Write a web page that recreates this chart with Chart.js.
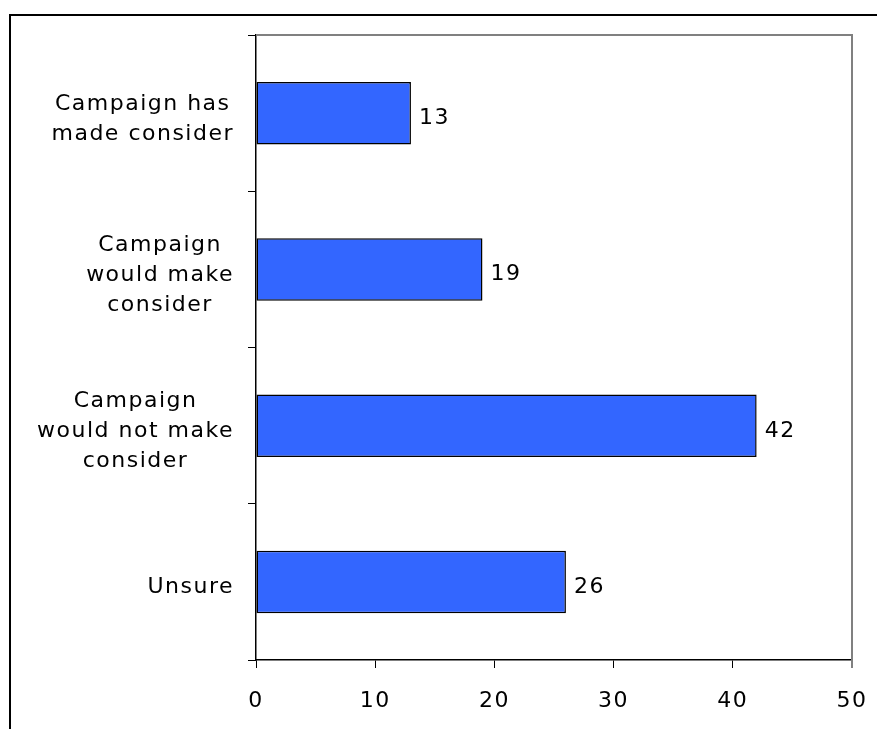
<!DOCTYPE html>
<html>
<head>
<meta charset="utf-8">
<title>Campaign consideration</title>
<script src="https://cdn.jsdelivr.net/npm/chart.js@4/dist/chart.umd.min.js"></script>
<style>
  html, body { margin: 0; padding: 0; background: #fff; }
  canvas { display: block; }
</style>
</head>
<body>
<canvas id="chart" width="877" height="729"></canvas>
<script>
// category labels, one array of lines per bar (top to bottom)
const categories = [
  ["Campaign has", "made consider"],
  ["Campaign", "would make", "consider"],
  ["Campaign", "would not make", "consider"],
  ["Unsure"]
];
const values = [13, 19, 42, 26];
const xTicks = [0, 10, 20, 30, 40, 50];

const FONT = "DejaVu Sans";
const FONT_SIZE = 22;
const SPACING = "1.5px";

// outer frame lines and the grey plot border on top/right
const framePlugin = {
  id: "frame",
  beforeDraw(chart) {
    const ctx = chart.ctx;
    ctx.save();
    ctx.strokeStyle = "#000";
    ctx.lineWidth = 2;
    ctx.beginPath();
    ctx.moveTo(10, chart.height);
    ctx.lineTo(10, 15);
    ctx.lineTo(chart.width, 15);
    ctx.stroke();
    ctx.restore();
    // chart text uses a slightly wider letter spacing
    ctx.letterSpacing = SPACING;
  },
  afterDraw(chart) {
    const ctx = chart.ctx;
    const a = chart.chartArea;
    ctx.save();
    ctx.strokeStyle = "#808080";
    ctx.lineWidth = 2;
    ctx.beginPath();
    ctx.moveTo(a.left, a.top);
    ctx.lineTo(a.right, a.top);
    ctx.lineTo(a.right, a.bottom + 8);
    ctx.stroke();
    ctx.restore();
  }
};

// multi-line category labels: block right-aligned, lines centred within it
const categoryLabels = {
  id: "categoryLabels",
  afterDraw(chart) {
    const ctx = chart.ctx;
    const y = chart.scales.y;
    const right = y.right - 22;
    ctx.save();
    ctx.letterSpacing = SPACING;
    ctx.font = FONT_SIZE + "px '" + FONT + "'";
    ctx.fillStyle = "#000";
    ctx.textAlign = "center";
    ctx.textBaseline = "alphabetic";
    categories.forEach((lines, i) => {
      const cy = y.getPixelForTick(i);
      const w = Math.max(...lines.map(l => ctx.measureText(l).width));
      const cx = right - w / 2;
      lines.forEach((line, j) => {
        const by = cy + 11.5 + (j - (lines.length - 1) / 2) * 30;
        ctx.fillText(line, cx, by);
      });
    });
    ctx.restore();
  }
};

// value printed just past the end of each bar
const valueLabels = {
  id: "valueLabels",
  afterDatasetsDraw(chart) {
    const ctx = chart.ctx;
    const meta = chart.getDatasetMeta(0);
    ctx.save();
    ctx.letterSpacing = SPACING;
    ctx.font = FONT_SIZE + "px '" + FONT + "'";
    ctx.fillStyle = "#000";
    ctx.textAlign = "left";
    ctx.textBaseline = "alphabetic";
    meta.data.forEach((bar, i) => {
      ctx.fillText(String(values[i]), bar.x + 8, bar.y + 11);
    });
    ctx.restore();
  }
};

new Chart(document.getElementById("chart"), {
  type: "bar",
  data: {
    labels: categories,
    datasets: [
      {
        data: values,
        backgroundColor: "#3366FF",
        borderColor: "#000",
        borderWidth: 1.5,
        borderSkipped: false,
        barPercentage: 0.4,
        categoryPercentage: 1
      }
    ]
  },
  options: {
    indexAxis: "y",
    responsive: false,
    animation: false,
    devicePixelRatio: 1,
    layout: { padding: { top: 35, right: 25, left: 0, bottom: 0 } },
    plugins: {
      legend: { display: false },
      tooltip: { enabled: false }
    },
    scales: {
      x: {
        min: xTicks[0],
        max: xTicks[xTicks.length - 1],
        afterBuildTicks(scale) {
          scale.ticks = xTicks.map(v => ({ value: v }));
        },
        afterFit(scale) {
          scale.height = 69;
          scale.paddingLeft = 0;
          scale.paddingRight = 0;
        },
        grid: {
          drawOnChartArea: false,
          tickLength: 8,
          color: "#000",
          lineWidth: 1
        },
        border: { color: "#000", width: 1.5 },
        ticks: {
          color: "#000",
          padding: 20,
          maxRotation: 0,
          font: { family: FONT, size: FONT_SIZE }
        }
      },
      y: {
        type: "category",
        afterFit(scale) {
          scale.width = 256;
          scale.paddingTop = 0;
          scale.paddingBottom = 0;
        },
        grid: {
          offset: true,
          drawOnChartArea: false,
          tickLength: 8,
          color: "#000",
          lineWidth: 1
        },
        border: { color: "#000", width: 1.5 },
        ticks: { display: false }
      }
    }
  },
  plugins: [framePlugin, categoryLabels, valueLabels]
});
</script>
</body>
</html>
